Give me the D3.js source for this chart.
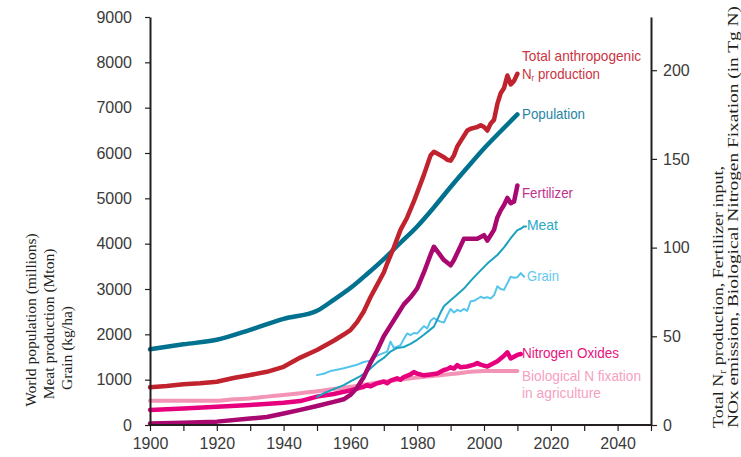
<!DOCTYPE html>
<html>
<head>
<meta charset="utf-8">
<script src="https://cdn.jsdelivr.net/npm/d3@7/dist/d3.min.js"></script>
<style>
  html, body { margin: 0; padding: 0; background: #fff; }
  svg { display: block; }
  .tick text { font-family: "Liberation Sans", Arial, sans-serif; font-size: 16px; fill: #3a3a3a; }
  .lbl { font-family: "Liberation Sans", Arial, sans-serif; font-size: 15px; }
  .ttl { font-family: "Liberation Serif", "Times New Roman", serif; font-size: 15.5px; fill: #231f20; }
</style>
</head>
<body>
<svg id="chart" width="741" height="457"></svg>
<script>
// ---------- DATA ----------
// Left axis series
const popYears = [1900,1910,1920,1930,1940,1950,1955,1960,1965,1970,1975,1980,1985,1990,1995,2000,2005,2010];
const popValues = [1670,1780,1880,2100,2340,2520,2760,3020,3330,3660,4020,4380,4800,5250,5680,6100,6480,6850];

const meatYears = [1950,1952,1955,1958,1960,1963,1965,1968,1970,1972,1974,1976,1978,1980,1982,1985,1987,1988,1990,1992,1994,1996,1999,2001,2004,2006,2008,2010,2011,2012,2012.6];
const meatValues = [620,700,790,880,960,1080,1180,1380,1480,1620,1700,1720,1790,1880,1990,2170,2480,2620,2750,2880,3010,3180,3410,3560,3750,3920,4120,4300,4330,4380,4380];

const grainYears = [1950,1952,1954,1956,1958,1960,1962,1964,1966,1968,1970,1971,1972,1973,1974,1975,1976,1977,1978,1979,1980,1981,1982,1983,1984,1985,1986,1987,1988,1989,1990,1991,1992,1993,1994,1995,1996,1997,1998,1999,2000,2001,2002,2003,2004,2005,2006,2007,2008,2009,2010,2011,2012];
const grainValues = [1100,1130,1190,1220,1250,1290,1330,1390,1420,1530,1590,1620,1840,1700,1730,1760,1900,2020,1980,2030,2020,2100,2180,2130,2300,2360,2310,2280,2260,2420,2560,2480,2540,2510,2560,2520,2730,2740,2780,2830,2800,2820,2790,2860,3060,3000,2980,3130,3270,3250,3260,3350,3270];

// Right axis series (Tg N)
const totalYears = [1900,1905,1910,1915,1920,1925,1930,1935,1940,1945,1950,1955,1958,1960,1962,1964,1966,1968,1970,1971,1973,1975,1977,1979,1980,1982,1984,1985,1986,1988,1989,1990,1991,1992,1993,1995,1996,1997,1998,1999,2000,2001,2002,2003,2004,2005,2006,2007,2008,2009,2010];
const totalValues = [21.3,22,23,23.5,24.4,26.5,28.2,30,32.8,38,42.3,47.5,51,53.5,58,64,72,79,86,91,100,110,117,126,131,141,152,154,153,151,149.5,149,152,157,160,166,167,167.5,168,169,168,166,170,172,181,187,190,197,192,194,198];

const fertYears = [1900,1910,1920,1930,1935,1940,1945,1950,1955,1958,1960,1962,1964,1966,1968,1970,1972,1974,1976,1978,1980,1982,1984,1985,1986,1988,1990,1991,1992,1993,1994,1995,1996,1997,1998,1999,2000,2001,2002,2003,2004,2005,2006,2007,2008,2009,2010];
const fertValues = [0.8,1.2,1.9,3.6,4.5,6.5,8.5,10.7,13,14.5,17,21,27,35,42,50,56,62,68,72,77,86,96,100.5,98,93,90,93,97,101,105,105,105,105,105,106,107,104,107,110,117,121,124,128,125,126,135];

const noxYears = [1900,1910,1920,1930,1940,1945,1950,1955,1960,1962,1964,1965,1966,1968,1970,1971,1972,1974,1975,1976,1978,1979,1980,1982,1984,1986,1988,1989,1990,1991,1992,1993,1995,1997,1998,1999,2000,2001,2002,2003,2004,2005,2006,2007,2008,2009,2010,2011];
const noxValues = [8.5,9.3,10.3,11.3,12.6,13.5,16,17.5,19.5,20.5,21.5,22.5,21.8,23.5,24.5,23.5,25,26.3,25.5,27,28.5,29.8,29,28,28.5,29,31,31.5,32.5,31.8,33.8,32.5,33,34,35,34,33.5,33,34,35,36,37.5,39,41,37.5,38.5,39.5,40];

const bnfYears = [1900,1910,1920,1925,1930,1935,1940,1945,1950,1955,1960,1970,1980,1990,2000,2010];
const bnfValues = [13.7,13.7,13.7,14.5,15,16,16.9,17.9,19,20.3,21.6,24.4,26.8,28.7,30.4,30.4];

const xTicks = [1900,1910,1920,1930,1940,1950,1960,1970,1980,1990,2000,2010,2020,2030,2040,2050];
const xTickLabels = [1900,1920,1940,1960,1980,2000,2020,2040];
const leftTicks = [0,1000,2000,3000,4000,5000,6000,7000,8000,9000];
const rightTicks = [0,50,100,150,200];

const leftTitle = ["World population (millions)", "Meat production (Mton)", "Grain (kg/ha)"];
const rightTitle1 = ["Total N", "r", " production, Fertilizer input,"];
const rightTitle2 = "NOx emission, Biological Nitrogen Fixation (in Tg N)";

// ---------- CHART ----------
const svg = d3.select("#chart");
const x = d3.scaleLinear().domain([1900, 2050]).range([150, 651]);
const yL = d3.scaleLinear().domain([0, 9000]).range([425, 17]);
const yR = d3.scaleLinear().domain([0, 230]).range([425, 17]);

const zip = (a, b) => a.map((v, i) => [v, b[i]]);

function drawLine(years, vals, scale, color, width, curve) {
  const line = d3.line().x(d => x(d[0])).y(d => scale(d[1])).curve(curve || d3.curveLinear);
  svg.append("path")
    .attr("d", line(zip(years, vals)))
    .attr("fill", "none")
    .attr("stroke", color)
    .attr("stroke-width", width)
    .attr("stroke-linejoin", "round")
    .attr("stroke-linecap", "round");
}

drawLine(bnfYears, bnfValues, yR, "#f394b7", 4, d3.curveMonotoneX);
drawLine(noxYears, noxValues, yR, "#e6007e", 4.5);
drawLine(grainYears, grainValues, yL, "#55c5ec", 2);
drawLine(meatYears, meatValues, yL, "#1aa2bf", 2);
drawLine(fertYears, fertValues, yR, "#a8086f", 4.5);
drawLine(popYears, popValues, yL, "#00718e", 4.5, d3.curveMonotoneX);
drawLine(totalYears, totalValues, yR, "#c1232e", 4.5);

// Axes
const axisColor = "#231f20";
const gx = svg.append("g").attr("transform", "translate(0,425)")
  .call(d3.axisBottom(x).tickValues(xTicks).tickSize(6).tickSizeOuter(0).tickPadding(7)
    .tickFormat(d => xTickLabels.includes(d) ? String(d) : ""));
const gl = svg.append("g").attr("transform", "translate(150,0)")
  .call(d3.axisLeft(yL).tickValues(leftTicks).tickSize(5).tickSizeOuter(0).tickPadding(13)
    .tickFormat(d => String(d)));
const gr = svg.append("g").attr("transform", "translate(651,0)")
  .call(d3.axisRight(yR).tickValues(rightTicks).tickSize(6).tickSizeOuter(0).tickPadding(6)
    .tickFormat(d => String(d)));
[gx, gl, gr].forEach(g => {
  g.select(".domain").attr("stroke", axisColor).attr("stroke-width", 2);
  g.selectAll(".tick line").attr("stroke", axisColor).attr("stroke-width", 1.2);
});
gx.select(".domain").attr("d", "M150,0H651");

// Series labels (condensed via textLength)
const labels = [
  {t: "Total anthropogenic", x: 522, y: 61, c: "#cc3442", w: 119},
  {t: "Population", x: 522, y: 119, c: "#2684a3", w: 63},
  {t: "Fertilizer", x: 522, y: 198, c: "#c22f8c", w: 51},
  {t: "Meat", x: 527, y: 230, c: "#2ba8c6", w: 31},
  {t: "Grain", x: 527, y: 281, c: "#63c8ee", w: 32},
  {t: "Nitrogen Oxides", x: 522, y: 358, c: "#e8137f", w: 97},
  {t: "Biological N fixation", x: 522, y: 381, c: "#f6a0c2", w: 119},
  {t: "in agriculture", x: 522, y: 398, c: "#f6a0c2", w: 79}
];
labels.forEach(l => {
  svg.append("text").attr("class", "lbl").attr("x", l.x).attr("y", l.y).attr("fill", l.c)
    .attr("textLength", l.w).attr("lengthAdjust", "spacingAndGlyphs").text(l.t);
});
const nr = svg.append("text").attr("class", "lbl").attr("x", 522).attr("y", 79).attr("fill", "#cc3442")
  .attr("textLength", 78).attr("lengthAdjust", "spacingAndGlyphs");
nr.append("tspan").text("N");
nr.append("tspan").attr("font-size", "9px").attr("dy", 2).text("r");
nr.append("tspan").attr("dy", -2).text(" production");

// Left title
const ltPos = [{cx: 36, cy: 320}, {cx: 54, cy: 324}, {cx: 72, cy: 348}];
leftTitle.forEach((t, i) => {
  svg.append("text").attr("class", "ttl")
    .attr("transform", `translate(${ltPos[i].cx},${ltPos[i].cy}) rotate(-90)`)
    .attr("text-anchor", "middle").text(t);
});

// Right title
const rt1 = svg.append("text").attr("class", "ttl")
  .attr("transform", "translate(723,428) rotate(-90)")
  .attr("textLength", 262).attr("lengthAdjust", "spacingAndGlyphs");
rt1.append("tspan").text(rightTitle1[0]);
rt1.append("tspan").attr("font-size", "10px").attr("dy", 3).text(rightTitle1[1]);
rt1.append("tspan").attr("dy", -3).text(rightTitle1[2]);
svg.append("text").attr("class", "ttl")
  .attr("transform", "translate(738,428) rotate(-90)")
  .attr("textLength", 422).attr("lengthAdjust", "spacingAndGlyphs")
  .text(rightTitle2);
</script>
</body>
</html>
